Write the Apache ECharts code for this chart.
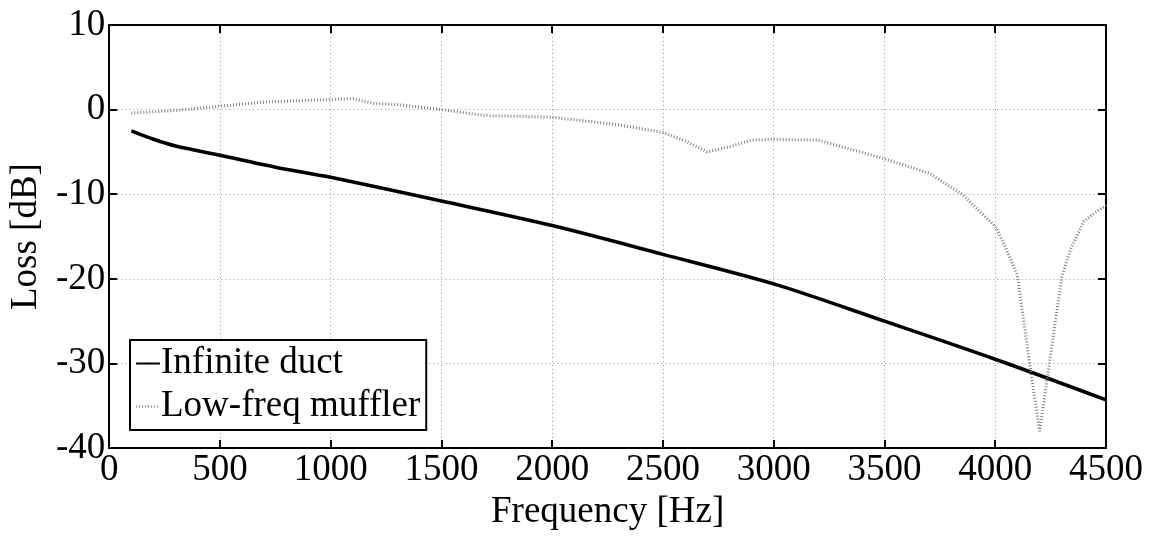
<!DOCTYPE html>
<html>
<head>
<meta charset="utf-8">
<script src="https://cdn.jsdelivr.net/npm/echarts@6/dist/echarts.min.js"></script>
<style>
  html, body { margin: 0; padding: 0; background: #fff; }
  #chart { width: 1156px; height: 536px; }
</style>
</head>
<body>
<div id="chart"></div>
<script>
// values
var ductFreq = [100, 200, 300, 500, 750, 1000, 1500, 2000, 2500, 3000, 3500, 4000, 4500];
var ductLoss = [-2.5, -3.5, -4.3, -5.4, -6.8, -8.0, -10.8, -13.7, -17.1, -20.6, -25.0, -29.5, -34.3];

var mufflerFreq = [100, 300, 500, 700, 1000, 1100, 1200, 1300, 1500, 1700, 2000, 2300, 2500, 2600, 2700, 2800, 2900, 3000, 3200, 3500, 3700, 3850, 4000, 4050, 4100, 4150, 4200, 4250, 4300, 4340, 4400, 4450, 4500];
var mufflerLoss = [-0.4, -0.1, 0.4, 0.9, 1.2, 1.3, 0.7, 0.6, 0.0, -0.7, -0.9, -1.8, -2.7, -3.7, -5.0, -4.4, -3.6, -3.5, -3.6, -5.8, -7.5, -10.0, -13.8, -16.5, -19.6, -29.0, -38.0, -29.0, -19.8, -16.5, -13.2, -12.2, -11.3];

var xTicks = { min: 0, max: 4500, interval: 500 };
var yTicks = { min: -40, max: 10, interval: 10 };

function pairs(xs, ys) {
  return xs.map(function (x, i) { return [x, ys[i]]; });
}

var font = "Liberation Serif";
var chart = echarts.init(document.getElementById("chart"));

// plain numbers, no thousands separator
function plain(v) { return String(v); }

var boxAxis = {
  axisLine: { show: true, onZero: false, lineStyle: { color: "#000", width: 2 } },
  axisTick: { show: true, inside: true, length: 8, lineStyle: { color: "#000", width: 2 } },
  splitLine: { show: false },
  axisLabel: { show: false }
};

var option = {
  animation: false,
  backgroundColor: "#fff",
  grid: { left: 104, right: 50, top: 25, bottom: 79 },
  legend: {
    orient: "vertical",
    left: 130,
    top: 340,
    backgroundColor: "#fff",
    borderColor: "#000",
    borderWidth: 2,
    borderRadius: 0,
    padding: [5, 6, 5, 5],
    itemWidth: 24,
    itemHeight: 2,
    itemGap: 6,
    textStyle: { fontFamily: font, fontSize: 37, color: "#000", padding: [0, 0, 0, -4] },
    data: ["Infinite duct", "Low-freq muffler"]
  },
  xAxis: [
    {
      type: "value",
      min: xTicks.min, max: xTicks.max, interval: xTicks.interval,
      name: "Frequency [Hz]",
      nameLocation: "middle",
      nameGap: 44,
      nameTextStyle: { fontFamily: font, fontSize: 37, color: "#000" },
      axisLine: { show: true, onZero: false, lineStyle: { color: "#000", width: 2 } },
      axisTick: { show: true, inside: true, length: 8, lineStyle: { color: "#000", width: 2 } },
      axisLabel: { fontFamily: font, fontSize: 37, color: "#000", margin: 4, formatter: plain },
      splitLine: { show: true, lineStyle: { color: "#999", width: 1, type: [1, 3] } }
    },
    Object.assign({ type: "value", position: "top", min: xTicks.min, max: xTicks.max, interval: xTicks.interval }, boxAxis)
  ],
  yAxis: [
    {
      type: "value",
      min: yTicks.min, max: yTicks.max, interval: yTicks.interval,
      name: "Loss [dB]",
      nameLocation: "middle",
      nameGap: 60,
      nameTextStyle: { fontFamily: font, fontSize: 37, color: "#000" },
      axisLine: { show: true, onZero: false, lineStyle: { color: "#000", width: 2 } },
      axisTick: { show: true, inside: true, length: 8, lineStyle: { color: "#000", width: 2 } },
      axisLabel: { fontFamily: font, fontSize: 37, color: "#000", margin: 4, formatter: plain },
      splitLine: { show: true, lineStyle: { color: "#999", width: 1, type: [1, 3] } }
    },
    Object.assign({ type: "value", position: "right", min: yTicks.min, max: yTicks.max, interval: yTicks.interval }, boxAxis)
  ],
  series: [
    {
      name: "Infinite duct",
      type: "line",
      data: pairs(ductFreq, ductLoss),
      smooth: 0.3,
      symbol: "none",
      color: "#000",
      lineStyle: { color: "#000", width: 3.5 }
    },
    {
      name: "Low-freq muffler",
      type: "line",
      data: pairs(mufflerFreq, mufflerLoss),
      symbol: "none",
      color: "#808080",
      lineStyle: { color: "#808080", width: 3, type: [1, 2] }
    }
  ]
};

chart.setOption(option);
</script>
</body>
</html>
